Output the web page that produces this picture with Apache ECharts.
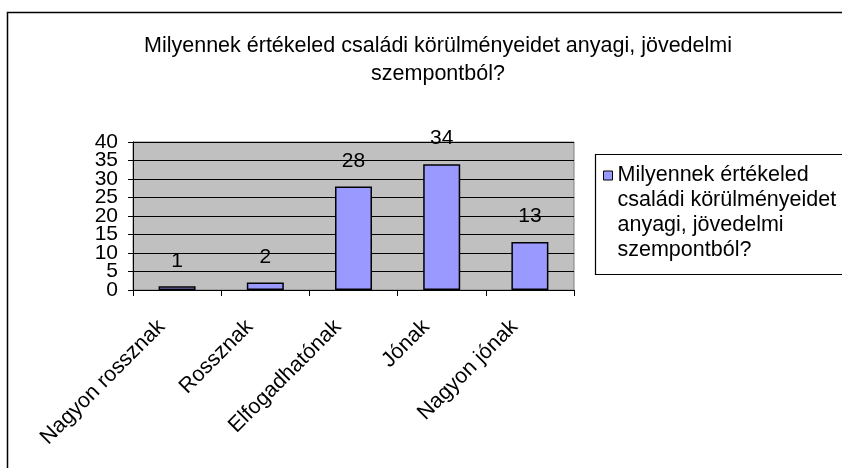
<!DOCTYPE html>
<html>
<head>
<meta charset="utf-8">
<title>Milyennek értékeled családi körülményeidet anyagi, jövedelmi szempontból?</title>
<script src="https://cdn.jsdelivr.net/npm/echarts@6/dist/echarts.min.js"></script>
<style>
  html, body { margin: 0; padding: 0; background: #fff; }
  #chart { width: 842px; height: 468px; }
</style>
</head>
<body>
<div id="chart"></div>
<script>
  var categories = ['Nagyon rossznak', 'Rossznak', 'Elfogadhatónak', 'Jónak', 'Nagyon jónak'];
  var values = [1, 2, 28, 34, 13];
  var seriesName = 'Milyennek értékeled családi körülményeidet anyagi, jövedelmi szempontból?';
  var yTicks = [0, 5, 10, 15, 20, 25, 30, 35, 40];

  var font = "'Liberation Sans', Arial, sans-serif";
  var chart = echarts.init(document.getElementById('chart'));

  // labels are packed tighter than echarts allows on one axis,
  // so even and odd ticks go on two stacked axes with the same scale
  var evenTicks = yTicks.filter(function (v, i) { return i % 2 === 0; });
  var oddTicks = yTicks.filter(function (v, i) { return i % 2 === 1; });

  var yBase = {
    type: 'value',
    position: 'left',
    min: yTicks[0],
    max: yTicks[yTicks.length - 1],
    interval: yTicks[1] - yTicks[0]
  };

  var option = {
    animation: false,
    backgroundColor: '#fff',
    textStyle: { fontFamily: font },
    title: {
      text: 'Milyennek értékeled családi körülményeidet anyagi, jövedelmi\nszempontból?',
      left: 433,
      top: 27,
      textAlign: 'center',
      textStyle: { fontFamily: font, fontSize: 21.5, fontWeight: 'normal', color: '#000', lineHeight: 28 }
    },
    // outer frame and legend frame
    graphic: [
      { type: 'rect', shape: { x: 7.5, y: 12.5, width: 900, height: 500 },
        style: { fill: 'none', stroke: '#000', lineWidth: 1.5 }, silent: true },
      { type: 'rect', shape: { x: 595.5, y: 154.5, width: 300, height: 120 },
        style: { fill: '#fff', stroke: '#000', lineWidth: 1.2 }, silent: true, z: -1 }
    ],
    legend: {
      data: [seriesName],
      orient: 'vertical',
      left: 603,
      top: 88,
      padding: 0,
      icon: 'rect',
      itemWidth: 9,
      itemHeight: 9,
      itemStyle: { borderColor: '#000', borderWidth: 1 },
      // three empty lines above so that the first line sits beside the icon
      formatter: function () {
        return '\n\n\nMilyennek értékeled\ncsaládi körülményeidet\nanyagi, jövedelmi\nszempontból?';
      },
      textStyle: { fontFamily: font, fontSize: 21.5, color: '#000', lineHeight: 25 }
    },
    grid: {
      left: 133,
      top: 142,
      right: 268,
      bottom: 178,
      show: true,
      backgroundColor: '#C0C0C0',
      borderColor: '#808080',
      borderWidth: 1
    },
    xAxis: {
      type: 'category',
      data: categories,
      boundaryGap: true,
      axisLine: { show: true, lineStyle: { color: '#000', width: 1 } },
      axisTick: { show: true, length: 6, alignWithLabel: false, lineStyle: { color: '#000' } },
      axisLabel: { rotate: 45, fontSize: 21.5, color: '#000', margin: 18, padding: [0, 22, 0, 0],
        fontFamily: font, interval: 0, hideOverlap: false }
    },
    yAxis: [
      Object.assign({}, yBase, {
        axisLine: { show: true, lineStyle: { color: '#000', width: 1 } },
        axisTick: { show: true, length: 5, lineStyle: { color: '#000' } },
        axisLabel: { fontSize: 21, color: '#000', margin: 15, fontFamily: font,
          showMinLabel: true, showMaxLabel: true, customValues: evenTicks },
        splitLine: { show: true, lineStyle: { color: '#000', width: 1 } }
      }),
      Object.assign({}, yBase, {
        offset: 0,
        axisLine: { show: false },
        axisTick: { show: false },
        axisLabel: { fontSize: 21, color: '#000', margin: 15, fontFamily: font, customValues: oddTicks },
        splitLine: { show: false }
      })
    ],
    series: [{
      name: seriesName,
      type: 'bar',
      yAxisIndex: 0,
      data: values,
      barWidth: 37,
      itemStyle: { color: '#9999FF', borderColor: '#000', borderWidth: 1.5 },
      label: { show: true, position: 'top', distance: 15, fontSize: 21, color: '#000', fontFamily: font }
    }]
  };

  chart.setOption(option);
</script>
</body>
</html>
